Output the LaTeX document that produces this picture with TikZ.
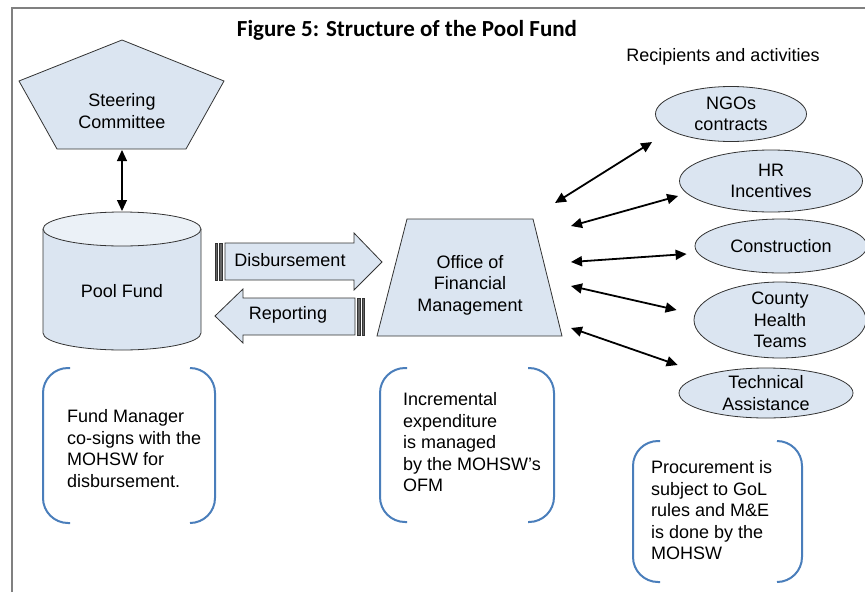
\documentclass[tikz,border=0pt]{standalone}
\usepackage{fontspec}
\setmainfont{Liberation Sans}
\newfontfamily\titlefont{Carlito}
\usetikzlibrary{shapes.geometric,arrows.meta}
\definecolor{boxfill}{RGB}{219,229,241}
\definecolor{bracketblue}{RGB}{74,126,187}
\definecolor{framegrey}{RGB}{128,128,128}

\begin{document}
\begin{tikzpicture}[x=1pt,y=-1pt,
	every node/.style={font=\fontsize{18}{21.5}\selectfont, inner sep=0pt},
	blueshape/.style={draw=black!80, fill=boxfill, line width=0.8pt},
	stripe/.style={draw=black!80, fill=black!60, line width=0.8pt},
	oval/.style={ellipse, draw=black!80, fill=boxfill, line width=0.8pt},
	twoway/.style={{Triangle[length=11pt,width=10pt]}-{Triangle[length=11pt,width=10pt]}, line width=1.8pt},
	bracket/.style={draw=bracketblue, line width=2pt, rounded corners=25pt},
	note/.style={align=left, anchor=west}]
\useasboundingbox (0,0) rectangle (865,592);

\draw[framegrey, line width=2pt] (12,592) -- (12,8) -- (865,8);

\path (407,30) node[font=\titlefont\bfseries\fontsize{23}{28}\selectfont] (title) {Figure 5: Structure of the Pool Fund}
		(723,57) node (recip) {Recipients and activities}
		;

% steering committee
\draw[blueshape] (122,40) -- (224,81) -- (186,149) -- (57,149) -- (19,81) -- cycle;
\node[align=center] (steer) at (122,111) {Steering\\Committee};

% pool fund
\draw[blueshape] (43,229) -- (43,333) arc[start angle=180, end angle=0, x radius=79, y radius=17] -- (201,229);
\draw[blueshape, fill=boxfill!55!white] (122,229) ellipse[x radius=79, y radius=17];
\node (pool) at (122,291) {Pool Fund};

\coordinate (steerbot) at (122,150);
\coordinate (pooltop) at (122,211);
\draw[twoway, line width=1.2pt] (steerbot) -- (pooltop);

% disbursement and reporting
\draw[blueshape] (225,243) -- (354,243) -- (354,233) -- (382,262) -- (354,290) -- (354,280) -- (225,280) -- cycle;
\draw[stripe] (215,243) rectangle (217,280);
\draw[stripe] (219.5,243) rectangle (222,280);
\node (disb) at (290,260) {Disbursement};

\draw[blueshape] (355,298) -- (243,298) -- (243,289) -- (215,316) -- (243,343) -- (243,335) -- (355,335) -- cycle;
\draw[stripe] (357.5,298) rectangle (360,335);
\draw[stripe] (362,298) rectangle (364,335);
\node (rep) at (288,315) {Reporting};

% office of financial management
\draw[blueshape] (407,219) -- (533,219) -- (562,336) -- (377,336) -- cycle;
\node[align=center] (ofm) at (470,285) {Office of\\Financial\\Management};

% recipients
\node[oval, minimum width=151, minimum height=55, label={[align=center]center:NGOs\\contracts}] (ngo) at (731,114) {};
\node[oval, minimum width=183, minimum height=62, label={[align=center]center:HR\\Incentives}] (hr) at (771,181) {};
\node[oval, minimum width=172, minimum height=54, label={center:Construction}] (cons) at (781,246) {};
\node[oval, minimum width=172, minimum height=76, label={[align=center]center:County\\Health\\Teams}] (county) at (780,320) {};
\node[oval, minimum width=174, minimum height=50, label={[align=center]center:Technical\\Assistance}] (tech) at (766,393) {};

\coordinate (o1) at (555,203);
\coordinate (o2) at (571,226);
\coordinate (o3) at (571,262);
\coordinate (o4) at (571,286);
\coordinate (o5) at (571,328);
\draw[twoway] (o1) -- ([shift={(-3,28)}]ngo.west);
\draw[twoway] (o2) -- ([shift={(-1,15)}]hr.west);
\draw[twoway] (o3) -- ([shift={(-8,8)}]cons.west);
\draw[twoway] (o4) -- ([shift={(-17,-10)}]county.west);
\draw[twoway] (o5) -- ([shift={(-1,-28)}]tech.west);

% notes in brackets
\draw[bracket] (70,368) -- (43,368) -- (43,523) -- (70,523);
\draw[bracket] (190,368) -- (215,368) -- (215,523) -- (190,523);
\node[note] (fundnote) at (67,448.5) {Fund Manager\\co-signs with the\\MOHSW for\\disbursement.};

\draw[bracket] (407,368) -- (380,368) -- (380,522) -- (407,522);
\draw[bracket] (528,368) -- (554,368) -- (554,522) -- (528,522);
\node[note] (ofmnote) at (403,442.5) {Incremental\\expenditure\\is managed\\by the MOHSW’s\\OFM};

\draw[bracket] (660,441) -- (633,441) -- (633,582) -- (660,582);
\draw[bracket] (777,441) -- (802,441) -- (802,582) -- (777,582);
\node[note] (procnote) at (651,510.5) {Procurement is\\subject to GoL\\rules and M\&E\\is done by the\\MOHSW};
\end{tikzpicture}
\end{document}
